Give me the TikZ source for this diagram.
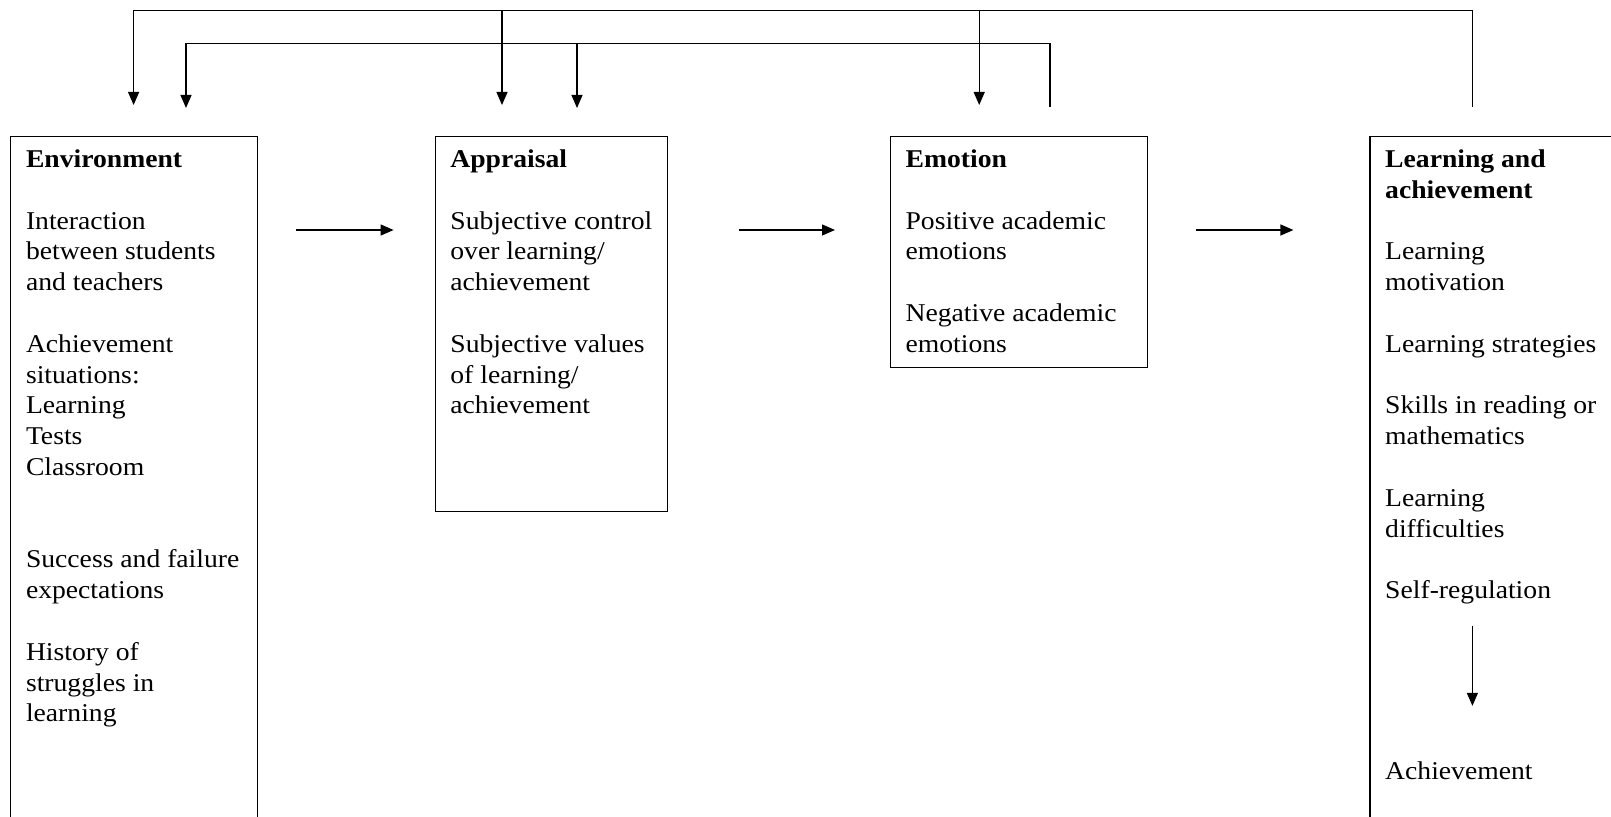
\documentclass[tikz,border=0pt]{standalone}
\usepackage{fontspec}
\setmainfont{Liberation Serif}[FakeStretch=1.08]
\usetikzlibrary{arrows.meta,positioning}

\begin{document}
\begin{tikzpicture}[x=1pt, y=-1pt,
    box/.style={rectangle, draw, line width=0.6pt, inner sep=0pt, anchor=north west},
    txt/.style={anchor=north west, inner sep=0pt, align=left, font=\fontsize{12.8}{15.4}\selectfont},
    arrow/.style={-{Triangle[length=6.5pt, width=5.5pt]}, line width=0.6pt}
  ]
    \useasboundingbox (0,0) rectangle (805.5,408.5);
    % the four stages
    \node[box, minimum width=123.3pt, minimum height=360pt] (env) at (5.1,67.8) {};
    \node[box, minimum width=116.1pt, minimum height=187.5pt] (app) at (217.3,67.8) {};
    \node[box, minimum width=128.4pt, minimum height=115.6pt] (emo) at (444.9,67.8) {};
    \node[box, minimum width=130pt, minimum height=360pt] (lea) at (684.7,67.8) {};

    \node[txt] (envtext) at ([xshift=7.7pt, yshift=-6.9pt]env.north west) {\textbf{Environment}\\[15.4pt]
      Interaction\\between students\\and teachers\\[15.4pt]
      Achievement\\situations:\\Learning\\Tests\\Classroom\\[30.8pt]
      Success and failure\\expectations\\[15.4pt]
      History of\\struggles in\\learning};
    \node[txt] (apptext) at ([xshift=7.7pt, yshift=-6.9pt]app.north west) {\textbf{Appraisal}\\[15.4pt]
      Subjective control\\over learning/\\achievement\\[15.4pt]
      Subjective values\\of learning/\\achievement};
    \node[txt] (emotext) at ([xshift=7.7pt, yshift=-6.9pt]emo.north west) {\textbf{Emotion}\\[15.4pt]
      Positive academic\\emotions\\[15.4pt]
      Negative academic\\emotions};
    \node[txt] (leatext) at ([xshift=7.7pt, yshift=-6.9pt]lea.north west) {\textbf{Learning and}\\\textbf{achievement}\\[15.4pt]
      Learning\\motivation\\[15.4pt]
      Learning strategies\\[15.4pt]
      Skills in reading or\\mathematics\\[15.4pt]
      Learning\\difficulties\\[15.4pt]
      Self-regulation};
    \node[txt, below=78.4pt of leatext.south west, anchor=north west] (ach) {Achievement};

    % forward arrows
    \coordinate (mid) at (0,115);
    \draw[arrow, shorten <=19.1pt, shorten >=20.5pt] (env.north east |- mid) -- (app.north west |- mid);
    \draw[arrow, shorten <=35.5pt, shorten >=27.4pt] (app.north east |- mid) -- (emo.north west |- mid);
    \draw[arrow, shorten <=24.2pt, shorten >=38pt] (emo.north east |- mid) -- (lea.north west |- mid);

    % feedback loops
    \coordinate (busA) at (0,5.3);
    \coordinate (busB) at (0,21.7);
    \coordinate (envA) at ([xshift=61.7pt]env.north west);
    \coordinate (envB) at ([xshift=87.9pt]env.north west);
    \coordinate (appA) at ([xshift=33.7pt]app.north west);
    \coordinate (appB) at ([xshift=71.2pt]app.north west);
    \coordinate (emoA) at ([xshift=44.7pt]emo.north west);
    \coordinate (emoB) at ([xshift=80.1pt]emo.north west);
    \coordinate (leaA) at ([xshift=51.5pt]lea.north west);
    \draw[arrow, shorten <=14.3pt, shorten >=15.3pt] (leaA) |- (envA |- busA) -- (envA);
    \draw[arrow, shorten >=15.3pt] (appA |- busA) -- (appA);
    \draw[arrow, shorten >=15.3pt] (emoA |- busA) -- (emoA);
    \draw[arrow, shorten <=14.3pt, shorten >=13.8pt] (emoB) |- (envB |- busB) -- (envB);
    \draw[arrow, shorten >=13.8pt] (appB |- busB) -- (appB);

    \draw[arrow, shorten <=10.6pt, shorten >=27.8pt] (leatext.south -| leaA) -- (ach.north -| leaA);
  \end{tikzpicture}
\end{document}
